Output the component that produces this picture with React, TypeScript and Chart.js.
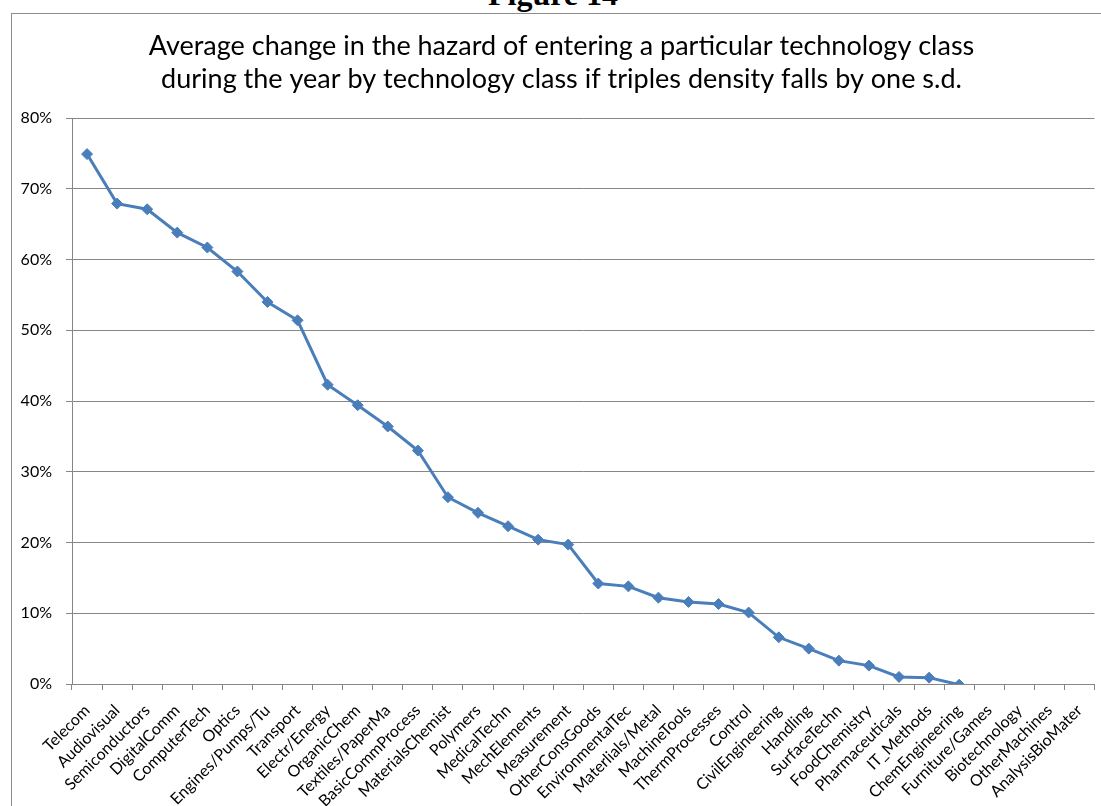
import React, { useEffect, useRef } from "react";
import { Chart, registerables } from "chart.js";

Chart.register(...registerables);

const categories: string[] = [
  "Telecom", "Audiovisual", "Semiconductors", "DigitalComm", "ComputerTech", "Optics",
  "Engines/Pumps/Tu", "Transport", "Electr/Energy", "OrganicChem", "Textiles/PaperMa",
  "BasicCommProcess", "MaterialsChemist", "Polymers", "MedicalTechn", "MechElements",
  "Measurement", "OtherConsGoods", "EnvironmentalTec", "Materlials/Metal", "MachineTools",
  "ThermProcesses", "Control", "CivilEngineering", "Handling", "SurfaceTechn",
  "FoodChemistry", "Pharmaceuticals", "IT_Methods", "ChemEngineering", "Furniture/Games",
  "Biotechnology", "OtherMachines", "AnalysisBioMater",
];

// percent change in hazard (values below 0 fall outside the 0–80% axis)
const hazardChange: number[] = [
  74.9, 67.9, 67.1, 63.8, 61.7, 58.3,
  54.0, 51.4, 42.3, 39.4, 36.4,
  33.0, 26.4, 24.2, 22.3, 20.4,
  19.7, 14.2, 13.8, 12.2, 11.6,
  11.3, 10.1, 6.6, 5.0, 3.3,
  2.6, 1.0, 0.9, -0.1, -3.5,
  -6.0, -9.5, -14.5,
];

const yTicks: number[] = [0, 10, 20, 30, 40, 50, 60, 70, 80];

const titleLines: string[] = [
  "Average change in the hazard of entering a particular technology class",
  "during the year by technology class if triples density falls by one s.d.",
];

const FONT = "Lato, Calibri, 'Open Sans', sans-serif";
const GRID = "#868686";
const BLUE = "#4a7ebb";

const shiftTitle = {
  id: "shiftTitle",
  afterLayout(chart: any) {
    const t = chart.titleBlock;
    if (t) {
      t.left += 7;
      t.right += 7;
    }
  },
};

export default function App() {
  const ref = useRef<HTMLCanvasElement | null>(null);

  useEffect(() => {
    if (!ref.current) return;
    const chart = new Chart(ref.current, {
      type: "line",
      data: {
        labels: categories,
        datasets: [
          {
            data: hazardChange,
            borderColor: BLUE,
            backgroundColor: BLUE,
            borderWidth: 3,
            pointStyle: "rectRot",
            pointRadius: 5.5,
            pointBorderWidth: 1,
            pointBackgroundColor: BLUE,
            pointBorderColor: BLUE,
            tension: 0,
            clip: 0,
          } as any,
        ],
      },
      plugins: [shiftTitle],
      options: {
        animation: false,
        responsive: false,
        maintainAspectRatio: false,
        layout: { padding: { left: 0, right: 4, top: 0, bottom: 0 } },
        plugins: {
          legend: { display: false },
          tooltip: { enabled: false },
          title: {
            display: true,
            text: titleLines,
            color: "#000",
            font: { family: FONT, size: 27, weight: "normal", lineHeight: "33px" as any },
            padding: { top: 16, bottom: 22 },
          },
        },
        scales: {
          x: {
            type: "category",
            offset: true,
            grid: {
              display: true,
              drawOnChartArea: false,
              drawTicks: true,
              tickLength: 6,
              offset: true,
              color: GRID,
            },
            border: { display: true, color: GRID },
            ticks: {
              autoSkip: false,
              maxRotation: 45,
              minRotation: 45,
              padding: 11,
              color: "#000",
              font: { family: FONT, size: 16 },
            },
            afterFit: (s: any) => {
              s.height = 122;
              s.paddingLeft = 0;
              s.paddingRight = 0;
            },
          },
          y: {
            min: 0,
            max: 80,
            afterBuildTicks: (s: any) => {
              s.ticks = yTicks.map((v) => ({ value: v }));
            },
            grid: { color: GRID, tickLength: 6, drawTicks: true },
            border: { display: true, color: GRID },
            ticks: {
              padding: 14,
              color: "#000",
              font: { family: FONT, size: 16 },
              callback: (v: any) => `${v}%`,
            },
            afterFit: (s: any) => {
              s.width = 60;
            },
          },
        },
      },
    });
    return () => chart.destroy();
  }, []);

  return (
    <div style={{ position: "fixed", left: 0, top: 0, width: 1101, height: 806, overflow: "hidden", background: "#fff" }}>
      <div
        style={{
          position: "absolute",
          left: 453,
          top: -22,
          width: 200,
          textAlign: "center",
          fontFamily: "'Liberation Serif', 'Times New Roman', serif",
          fontWeight: "bold",
          fontSize: 32,
          lineHeight: "32px",
          color: "#000",
        }}
      >
        Figure 14
      </div>
      <div
        style={{
          position: "absolute",
          left: 11,
          top: 13,
          width: 1100,
          height: 800,
          border: "1px solid #8c8c8c",
          boxSizing: "border-box",
        }}
      >
        <canvas ref={ref} width={1089} height={792} style={{ display: "block", width: 1089, height: 792 }} />
      </div>
    </div>
  );
}
